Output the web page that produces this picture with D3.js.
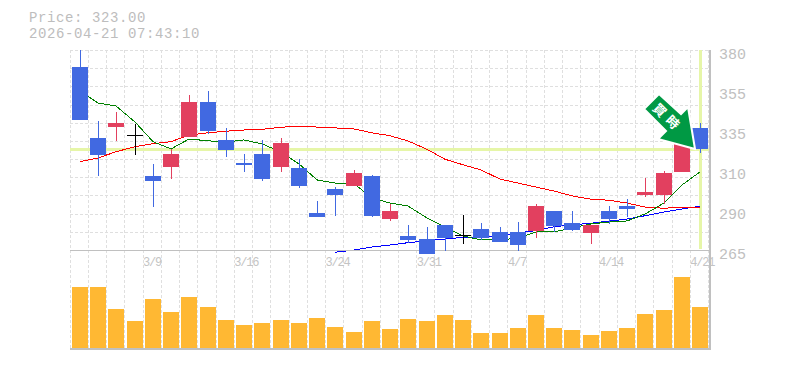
<!DOCTYPE html>
<html>
<head>
<meta charset="utf-8">
<script src="https://cdnjs.cloudflare.com/ajax/libs/d3/7.8.5/d3.min.js"></script>
<style>
  body { margin: 0; background: #fff; }
  svg { display: block; }
  text { font-family: "Liberation Mono", monospace; fill: #bdbdbd; }
</style>
</head>
<body>
<div id="chart"></div>
<script>
var dates = ['3/3','3/4','3/5','3/6','3/9','3/10','3/11','3/12','3/13','3/16','3/17','3/18','3/19','3/23','3/24','3/25','3/26','3/27','3/30','3/31','4/1','4/2','4/3','4/6','4/7','4/8','4/9','4/10','4/13','4/14','4/15','4/16','4/17','4/20','4/21'];
var open  = [370.2,329.4,335.7,331,307.6,312.7,330,350.1,328.3,315,320.2,312.7,312.2,286.3,300.1,301.8,307.6,282.8,273.1,271.3,279.4,273.6,277.1,275.4,275.4,275.9,287.4,280.5,274.8,287.4,290.3,296.6,296.6,309.9,335.2];
var close = [339.8,319.6,338,331,304.7,320.2,350.1,333.4,322.5,313.9,305.8,326.5,301.8,284,296.6,309.3,284.6,287.4,270.8,262.7,271.9,273.6,271.9,269.6,267.9,290.3,278.8,276.5,279.4,282.8,288.6,298.4,309.3,326,323];
var high  = [380,339.2,344.4,337.5,314.5,323.1,354.1,356.4,335.2,320.2,328.3,329.4,317.3,293.2,301.2,311,308.1,291.5,279.4,278.2,279.4,285.1,280.5,278.2,281.1,291.5,287.4,287.4,279.4,290.3,294.3,306.4,310.4,326,338];
var low   = [339.8,307.6,327.7,319.6,289.7,305.8,330,331.7,318.5,309.9,304.7,309.9,300.7,284,284.6,301.8,284,281.7,269,262.7,264.4,268.5,270.8,269.6,264.4,271.9,275.4,275.9,268.5,280,284,295.5,291.5,309.9,320.8];
var volume = [610,610,390,270,490,360,510,410,280,230,250,280,250,300,210,160,270,190,290,270,330,280,150,150,200,330,200,180,130,170,200,340,380,710,410];
var maShort = [356.4,349.5,347.8,338.6,327.3,323.1,328.8,327.8,327.1,328.3,326,321.4,314.5,305.3,303.5,303.2,294.9,292,290.3,283.4,278.2,273.1,270.8,270.8,271.9,275.4,275.4,277.7,280,281.1,281.7,285.7,292,302.4,309.9];
var maMid = [315.8,317.9,321.5,324.4,326.1,327.3,331.1,332.4,333.3,334,334.4,335.6,336.1,335.7,335.2,334.6,332.4,330.7,327.7,322.9,317.2,314,311,305.8,303.5,301.2,298.9,296.1,294.2,293.6,292,289.7,289,289.6,289.7];
var maLong = [null,null,null,null,null,null,null,null,null,null,null,null,null,null,263.7,265,266.7,267.9,269.2,270.3,271.3,272.3,272.6,273.4,274.9,276.1,278.4,279.4,280.4,281.6,282.8,284.7,286.8,288.6,290.2];

var price = 323;
var priceLabel = 'Price: 323.00';
var timeLabel = '2026-04-21 07:43:10';
var dateTicks = ['3/9','3/16','3/24','3/31','4/7','4/14','4/21'];
var priceTicks = [380,357,334,311,288,265];
var priceTickLabels = ['380','355','335','310','290','265'];
var arrowChars = ['買','時'];

var width = 785, height = 370;
var gridColor = '#dfdfdf', axisColor = '#c0c0c0', hiColor = '#e6f6a8';
var upColor = '#e2405f', downColor = '#4169e1', volColor = '#ffb833';

var svg = d3.select('#chart').append('svg')
  .attr('width', width)
  .attr('height', height);

var x = d3.scaleBand().domain(dates).range([70, 708.4]);
var y = d3.scaleLinear().domain([265, 380]).range([250, 50]);
var yVol = d3.scaleLinear().domain([0, 980]).range([348, 250]);

// candle left edge, everything snaps to whole pixels like the original
function left(d) { return Math.round(x(d)) + 2; }
function mid(d) { return left(d) + 8; }
function py(v) { return Math.round(y(v)); }

// Grid
var grid = svg.append('g')
  .attr('stroke', gridColor)
  .attr('stroke-dasharray', '3,2')
  .attr('shape-rendering', 'crispEdges');

grid.selectAll('.v')
  .data(dates)
  .enter().append('line')
  .attr('x1', function(d) { return Math.round(x(d) - 0.3) + 0.5; })
  .attr('x2', function(d) { return Math.round(x(d) - 0.3) + 0.5; })
  .attr('y1', 50)
  .attr('y2', 349);

grid.append('line')
  .attr('x1', 708.5).attr('x2', 708.5)
  .attr('y1', 50).attr('y2', 349);

grid.selectAll('.h')
  .data(d3.range(1, 12))
  .enter().append('line')
  .attr('x1', 70)
  .attr('x2', 710)
  .attr('y1', function(i) { return Math.round(250 - i * 200 / 11) + 0.5; })
  .attr('y2', function(i) { return Math.round(250 - i * 200 / 11) + 0.5; });

// Current price and date cross
svg.append('rect')
  .attr('x', 70)
  .attr('y', py(price) - 1)
  .attr('width', 640)
  .attr('height', 3)
  .attr('fill', hiColor);

svg.append('rect')
  .attr('x', mid('4/21') - 1)
  .attr('y', 50)
  .attr('width', 3)
  .attr('height', 199)
  .attr('fill', hiColor);

// Moving averages, candles sit on top of them
var maLine = d3.line()
  .defined(function(d) { return d !== null; })
  .x(function(d, i) { return mid(dates[i]); })
  .y(function(d) { return y(d); });

[[maLong, '#0000ff'], [maMid, '#ff0000'], [maShort, '#008000']].forEach(function(s) {
  svg.append('path')
    .attr('d', maLine(s[0]))
    .attr('fill', 'none')
    .attr('stroke', s[1])
    .attr('stroke-width', 1)
    .attr('shape-rendering', 'crispEdges');
});

// Axes
var xAxis = svg.append('g')
  .attr('transform', 'translate(0,250)')
  .call(d3.axisBottom(x).tickValues(dateTicks).tickSize(0));
xAxis.select('.domain').remove();
xAxis.selectAll('text')
  .attr('text-anchor', 'start')
  .attr('x', -9)
  .attr('y', 0)
  .attr('dy', 16)
  .style('font-size', '12px')
  .style('letter-spacing', '-1.2px')
  .style('font-family', '"Liberation Mono", monospace')
  .style('fill', '#c4c4c4');

var yAxis = svg.append('g')
  .attr('transform', 'translate(710,0)')
  .call(d3.axisRight(y).tickValues(priceTicks).tickSize(0)
    .tickFormat(function(d, i) { return priceTickLabels[i]; }));
yAxis.select('.domain').remove();
yAxis.selectAll('text')
  .attr('x', 9)
  .attr('dy', 8)
  .style('font-size', '15px')
  .style('font-family', '"Liberation Mono", monospace')
  .style('fill', '#c0c0c0');

// Volume
svg.selectAll('.vol')
  .data(volume)
  .enter().append('rect')
  .attr('class', 'vol')
  .attr('x', function(d, i) { return left(dates[i]); })
  .attr('y', function(d) { return yVol(d); })
  .attr('width', 16)
  .attr('height', function(d) { return 348 - yVol(d); })
  .attr('fill', volColor);

// Frame
var frame = svg.append('g')
  .attr('stroke', axisColor)
  .attr('shape-rendering', 'crispEdges');
frame.append('line').attr('x1', 70).attr('x2', 710).attr('y1', 250.5).attr('y2', 250.5);
frame.append('line').attr('x1', 70).attr('x2', 711).attr('y1', 349).attr('y2', 349).attr('stroke-width', 2);
frame.append('line').attr('x1', 710).attr('x2', 710).attr('y1', 50).attr('y2', 350).attr('stroke-width', 2);

// Candles
var candle = svg.selectAll('.candle')
  .data(dates)
  .enter().append('g')
  .attr('class', 'candle')
  .attr('shape-rendering', 'crispEdges');

function candleColor(i) {
  if (open[i] === close[i]) return '#000';
  return close[i] > open[i] ? upColor : downColor;
}

candle.append('line')
  .attr('x1', function(d) { return mid(d) + 0.5; })
  .attr('x2', function(d) { return mid(d) + 0.5; })
  .attr('y1', function(d, i) { return py(high[i]); })
  .attr('y2', function(d, i) { return py(low[i]); })
  .attr('stroke', function(d, i) { return candleColor(i); });

candle.append('rect')
  .attr('x', function(d) { return left(d); })
  .attr('y', function(d, i) { return py(Math.max(open[i], close[i])); })
  .attr('width', 16)
  .attr('height', function(d, i) { return Math.max(1, py(Math.min(open[i], close[i])) - py(Math.max(open[i], close[i]))); })
  .attr('fill', function(d, i) { return candleColor(i); });

// Signal arrow, tip points at the last candle
var arrow = svg.append('g')
  .attr('transform', 'translate(' + (mid('4/21') - 5) + ',' + (py(price)) + ')');

arrow.append('path')
  .attr('d', 'M0,0L-37,-10L-29,-18L-51,-40L-36,-55L-14,-35L-7,-42Z')
  .attr('fill', '#009944')
  .attr('stroke', '#fff')
  .attr('stroke-width', 2)
  .attr('stroke-linejoin', 'miter');

arrow.selectAll('.sig')
  .data(arrowChars)
  .enter().append('text')
  .attr('transform', function(d, i) { return 'translate(' + (-35 + i * 13) + ',' + (-39 + i * 12) + ') rotate(45)'; })
  .attr('text-anchor', 'middle')
  .attr('dy', 5)
  .style('font-family', '"Noto Sans CJK JP"')
  .style('font-weight', 700)
  .style('font-size', '13px')
  .style('fill', '#fff')
  .text(function(d) { return d; });

// Header
svg.append('text').attr('x', 29).attr('y', 22).style('font-size', '14px').style('letter-spacing', '0.6px').text(priceLabel);
svg.append('text').attr('x', 29).attr('y', 38).style('font-size', '14px').style('letter-spacing', '0.6px').text(timeLabel);
</script>
</body>
</html>
